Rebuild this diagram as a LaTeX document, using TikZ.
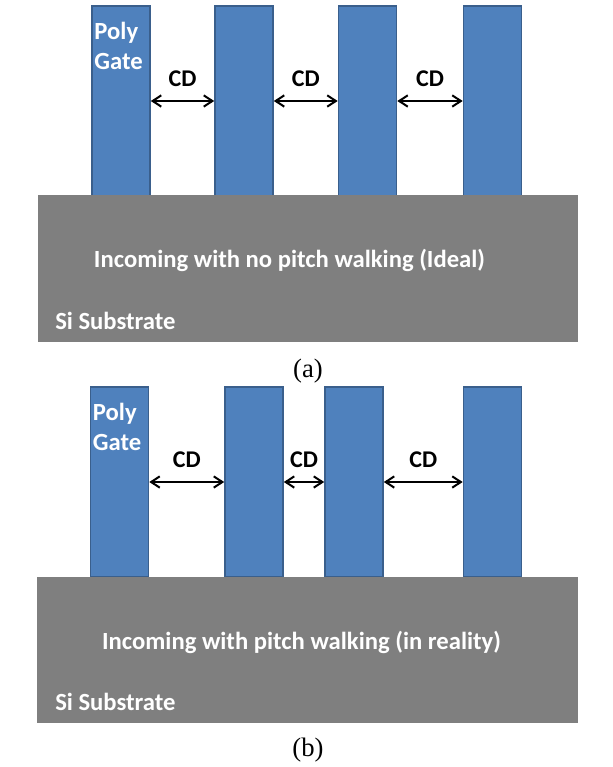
\documentclass[tikz,border=0pt]{standalone}
\usepackage{fontspec}
\setmainfont{Carlito}
\newfontfamily\capfont{Liberation Serif}
\usetikzlibrary{arrows.meta, positioning}
\definecolor{gateblue}{HTML}{4F81BD}
\definecolor{gateedge}{HTML}{3A5F8C}
\definecolor{subgray}{HTML}{7F7F7F}
\tikzset{
  gate/.style      = {draw=gateedge, line width=1.2pt, fill=gateblue,
                      minimum width=43.5pt, minimum height=142.5pt, inner sep=0pt},
  substrate/.style = {fill=subgray, inner sep=0pt},
  cdarrow/.style   = {{Straight Barb[length=6.5pt, width=8.5pt]}-{Straight Barb[length=6.5pt, width=8.5pt]},
                      line width=1.5pt},
  cdlbl/.style     = {font=\fontsize{18}{22}\selectfont\bfseries, inner sep=0pt},
  gatelbl/.style   = {text=white, font=\fontsize{18.5}{22}\selectfont\bfseries,
                      align=left, anchor=north west, inner sep=0pt},
  sublbl/.style    = {text=white, font=\fontsize{18.5}{22}\selectfont\bfseries, inner sep=0pt},
  caplbl/.style    = {font=\capfont\fontsize{20}{24}\selectfont, inner sep=0pt, anchor=base},
}
\begin{document}
\begin{tikzpicture}[x=0.75pt, y=-0.75pt]
    \useasboundingbox (0,0) rectangle (612,767);

    % (a) ideal, equal spacing
    \node[gate] (ga1) at (121,101)   {};
    \node[gate] (ga2) at (244,101)   {};
    \node[gate] (ga3) at (367.5,101) {};
    \node[gate] (ga4) at (492.5,101) {};
    \node[substrate, minimum width=405pt, minimum height=110.25pt] (suba) at (308,268.5) {};

    \node[gatelbl] (pga) at ([xshift=2.25pt, yshift=-12.75pt]ga1.north west) {Poly\\Gate};
    \draw[cdarrow] (ga1) -- (ga2) node[cdlbl, midway, above=10.3pt] (cda1) {CD};
    \draw[cdarrow] (ga2) -- (ga3) node[cdlbl, midway, above=10.3pt] (cda2) {CD};
    \draw[cdarrow] (ga3) -- (ga4) node[cdlbl, midway, above=10.3pt] (cda3) {CD};

    \node[sublbl, anchor=base]      (inca) at (289.5,267) {Incoming with no pitch walking (Ideal)};
    \node[sublbl, anchor=base west] (sia)  at (55,329)    {Si Substrate};
    \node[caplbl] (capa) at (308,377) {(a)};

    % (b) pitch walking
    \node[gate] (gb1) at (119.5,482) {};
    \node[gate] (gb2) at (254,482)   {};
    \node[gate] (gb3) at (354,482)   {};
    \node[gate] (gb4) at (492.5,482) {};
    \node[substrate, minimum width=405.75pt, minimum height=109.5pt] (subb) at (307.5,650) {};

    \node[gatelbl] (pgb) at ([xshift=2.25pt, yshift=-12.75pt]gb1.north west) {Poly\\Gate};
    \draw[cdarrow] (gb1) -- (gb2) node[cdlbl, midway, above=10.3pt] (cdb1) {CD};
    \draw[cdarrow] (gb2) -- (gb3) node[cdlbl, midway, above=10.3pt] (cdb2) {CD};
    \draw[cdarrow] (gb3) -- (gb4) node[cdlbl, midway, above=10.3pt] (cdb3) {CD};

    \node[sublbl, anchor=base]      (incb) at (301.5,649) {Incoming with pitch walking (in reality)};
    \node[sublbl, anchor=base west] (sib)  at (55,710)    {Si Substrate};
    \node[caplbl] (capb) at (308,756) {(b)};
\end{tikzpicture}
\end{document}
